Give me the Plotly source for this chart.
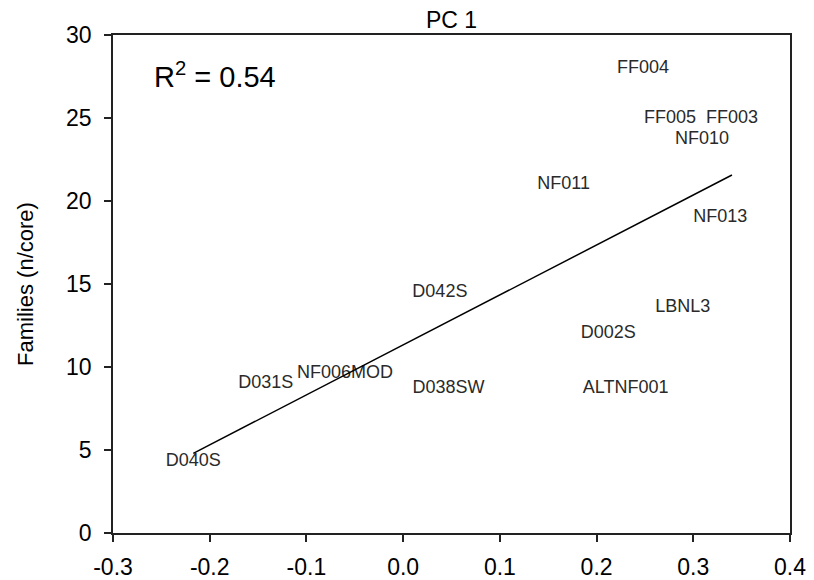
import plotly.graph_objects as go

# Data
sites = ["FF004", "FF005", "FF003", "NF010", "NF011", "NF013", "D042S", "LBNL3",
         "D002S", "D038SW", "ALTNF001", "D031S", "NF006MOD", "D040S"]
pc1 = [0.248, 0.276, 0.340, 0.309, 0.166, 0.328, 0.038, 0.289,
       0.212, 0.047, 0.230, -0.142, -0.060, -0.217]
families = [28.0, 25.0, 25.0, 23.7, 21.0, 19.0, 14.5, 13.6,
            12.0, 8.7, 8.7, 9.0, 9.6, 4.3]

# Regression line
fit_intercept = 11.33
fit_slope = 30.1
r2_label = "R<sup>2</sup> = 0.54"

x_ticks = [-0.3, -0.2, -0.1, 0.0, 0.1, 0.2, 0.3, 0.4]
y_ticks = [0, 5, 10, 15, 20, 25, 30]

font_family = "Liberation Sans, Arial, sans-serif"

fit_x = [min(pc1), max(pc1)]
fit_y = [fit_intercept + fit_slope * v for v in fit_x]

fig = go.Figure()
fig.add_trace(go.Scatter(
    x=pc1, y=families, mode="text", text=sites,
    textposition="middle center",
    textfont=dict(family=font_family, size=18, color="#2a2a2a"),
    showlegend=False, hoverinfo="skip"))
fig.add_trace(go.Scatter(
    x=fit_x, y=fit_y, mode="lines",
    line=dict(color="black", width=1.5),
    showlegend=False, hoverinfo="skip"))

fig.add_annotation(
    x=0.057, y=0.92, xref="paper", yref="paper", text=r2_label,
    showarrow=False, xanchor="left", yanchor="middle",
    font=dict(family=font_family, size=29, color="black"))

fig.update_layout(
    width=814, height=580,
    margin=dict(l=113, r=24, t=35, b=47),
    paper_bgcolor="white", plot_bgcolor="white",
    font=dict(family=font_family, color="black"),
    title=dict(text="PC 1", x=0.5, xref="paper", xanchor="center",
               y=1 - 20 / 580, yref="container", yanchor="middle",
               font=dict(family=font_family, size=23, color="black")),
)
fig.update_xaxes(
    range=[-0.3, 0.4], tickvals=x_ticks, automargin=False,
    ticktext=[f"{v:.1f}" for v in x_ticks],
    showgrid=False, zeroline=False, showline=True, mirror=True,
    linecolor="#222222", linewidth=1.5, ticks="outside", ticklen=7,
    tickwidth=1.5, tickcolor="#222222", ticklabelstandoff=6,
    tickfont=dict(family=font_family, size=23, color="black"))
fig.update_yaxes(
    range=[0, 30], tickvals=y_ticks, automargin=False,
    showgrid=False, zeroline=False, showline=True, mirror=True,
    linecolor="#222222", linewidth=1.5, ticks="outside", ticklen=7,
    tickwidth=1.5, tickcolor="#222222", ticklabelstandoff=8,
    tickfont=dict(family=font_family, size=23, color="black"),
    title=dict(text="Families (n/core)", standoff=26,
               font=dict(family=font_family, size=22, color="black")))

fig.write_html("out.html")
